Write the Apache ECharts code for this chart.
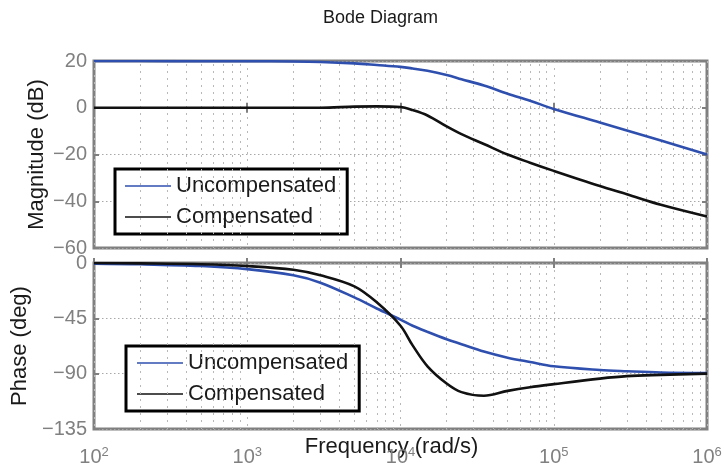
<!DOCTYPE html>
<html lang="en">
<head>
<meta charset="utf-8">
<title>Bode Diagram</title>
<script src="https://cdn.jsdelivr.net/npm/echarts@6/dist/echarts.min.js"></script>
<style>
  html, body {margin:0;padding:0;background:#fff}
  #chart {width:724px;height:468px}
</style>
</head>
<body>
<div id="chart"></div>
<script>
// frequency points (rad/s)
var freq = [100, 200, 500, 1000, 2000, 3000, 5000, 7000, 10000, 12000, 15000,
            20000, 25000, 35000, 50000, 70000, 100000, 200000, 300000, 500000, 1000000];
// magnitude (dB)
var magUncomp = [20, 20, 19.9, 19.9, 19.8, 19.6, 19.0, 18.3, 17.5, 16.8, 15.8,
                 14.0, 12.2, 9.5, 6.0, 3.0, -0.5, -6.3, -9.7, -14.0, -20];
var magComp = [0, 0, 0, 0, 0, 0, 0.5, 0.6, 0.3, -1, -3.3,
               -8, -11.3, -15.5, -20, -23.5, -27, -33.5, -37, -41.5, -46.5];
// phase (deg)
var phaseUncomp = [-0.5, -1, -2.5, -5, -10, -16, -28, -37, -46, -51, -56,
                   -62, -66, -72, -77, -80.5, -84, -87, -88, -89, -89.5];
var phaseComp = [0, -0.3, -1, -2.5, -5.5, -10, -19, -32, -51, -67, -84,
                 -98, -105, -108, -104, -101, -98.5, -94, -92, -91, -90];

var magTicks = [-60, 20, 20];      // min, max, interval
var phaseTicks = [-135, 0, 45];
var seriesNames = ['Uncompensated', 'Compensated'];

// 2..9 x decade positions for the minor grid
var minorFreq = [];
[100, 1000, 10000, 100000].forEach(function (d) {
  for (var k = 2; k <= 9; k++) minorFreq.push(d * k);
});

var FONT = "'Liberation Sans', Arial, sans-serif";
var GRAY = '#808080';
var BLUE = '#2f4fae';
var BLACK = '#111111';

function pairs(vals) {
  return freq.map(function (f, i) { return [f, vals[i]]; });
}
function minus(v) { return String(v).replace('-', '\u2212'); }

function xAx(grid, pos, labels) {
  return {
    type: 'log', logBase: 10, min: 100, max: 1000000, gridIndex: grid, position: pos,
    axisLine: {show: false},
    axisTick: {show: true, inside: true, length: 5, lineStyle: {color: GRAY, width: 2}},
    splitLine: {show: pos == 'bottom', lineStyle: {color: '#b8b8b8', type: [2, 5], width: 1}},
    axisLabel: labels ? {
      show: true, margin: 17,
      formatter: function (v) {
        return '{b|10}{s|' + Math.round(Math.log10(v)) + '}';
      },
      rich: {
        b: {fontFamily: FONT, fontSize: 20, color: GRAY, lineHeight: 22},
        s: {fontFamily: FONT, fontSize: 13, color: GRAY, verticalAlign: 'top', lineHeight: 12}
      }
    } : {show: false}
  };
}

function yAx(grid, pos, t, name, gap) {
  return {
    type: 'value', gridIndex: grid, position: pos,
    min: t[0], max: t[1], interval: t[2],
    name: name, nameLocation: 'middle', nameGap: gap, nameMoveOverlap: false,
    nameTextStyle: {fontFamily: FONT, fontSize: 22, color: '#1a1a1a'},
    axisLine: {show: false},
    axisTick: {show: true, inside: true, length: 5, lineStyle: {color: GRAY, width: 2}},
    splitLine: {show: pos == 'left', lineStyle: {color: '#a8a8a8', type: [1.5, 2.5], width: 1}},
    axisLabel: {show: pos == 'left', margin: 7, fontFamily: FONT, fontSize: 20, color: GRAY, formatter: minus}
  };
}

function legendAt(left, top, padLeft) {
  return {
    data: seriesNames, orient: 'vertical', left: left, top: top,
    padding: [5, 11, 5, padLeft], itemGap: 7, itemWidth: 46, itemHeight: 1.5,
    icon: 'rect',
    backgroundColor: '#fff', borderColor: '#000', borderWidth: 3,
    textStyle: {fontFamily: FONT, fontSize: 22, color: '#1a1a1a', lineHeight: 24},
    selectedMode: false
  };
}

function minorLines() {
  return {
    silent: true, symbol: ['none', 'none'], animation: false,
    label: {show: false},
    lineStyle: {color: '#b8b8b8', type: [2, 5], width: 1},
    data: minorFreq.map(function (f) { return {xAxis: f}; })
  };
}

function line(name, grid, vals, color, withMinor) {
  var s = {
    name: name, type: 'line', xAxisIndex: grid, yAxisIndex: grid,
    data: pairs(vals), symbol: 'none', smooth: 0.35,
    lineStyle: {color: color, width: 2.6}, itemStyle: {color: color}, z: 5
  };
  if (withMinor) s.markLine = minorLines();
  return s;
}

var myChart = echarts.init(document.getElementById('chart'));
var option = {
  animation: false,
  backgroundColor: '#fff',
  title: {
    text: 'Bode Diagram', left: 318, top: 4,
    textStyle: {fontFamily: FONT, fontSize: 18, fontWeight: 'normal', color: '#1a1a1a'}
  },
  grid: [
    {left: 94, top: 61, width: 613, height: 187, outerBoundsMode: 'none',
     show: true, borderColor: GRAY, borderWidth: 3, backgroundColor: '#fff'},
    {left: 94, top: 263, width: 613, height: 166, outerBoundsMode: 'none',
     show: true, borderColor: GRAY, borderWidth: 3, backgroundColor: '#fff'}
  ],
  xAxis: [
    xAx(0, 'bottom', false),
    Object.assign(xAx(1, 'bottom', true), {
      name: 'Frequency (rad/s)', nameLocation: 'middle', nameGap: 7, nameMoveOverlap: false,
      nameTextStyle: {fontFamily: FONT, fontSize: 22, color: '#1a1a1a', verticalAlign: 'top', padding: [0, 18, 0, 0]}
    }),
    xAx(0, 'top', false),
    xAx(1, 'top', false)
  ],
  yAxis: [
    yAx(0, 'left', magTicks, 'Magnitude (dB)', 46),
    yAx(1, 'left', phaseTicks, 'Phase (deg)', 63),
    yAx(0, 'right', magTicks, '', 0),
    yAx(1, 'right', phaseTicks, '', 0)
  ],
  legend: [legendAt(115, 169, 10), legendAt(126, 346, 11)],
  series: [
    line(seriesNames[0], 0, magUncomp, BLUE, true),
    line(seriesNames[1], 0, magComp, BLACK, false),
    line(seriesNames[0], 1, phaseUncomp, BLUE, true),
    line(seriesNames[1], 1, phaseComp, BLACK, false)
  ]
};
myChart.setOption(option);
</script>
</body>
</html>
